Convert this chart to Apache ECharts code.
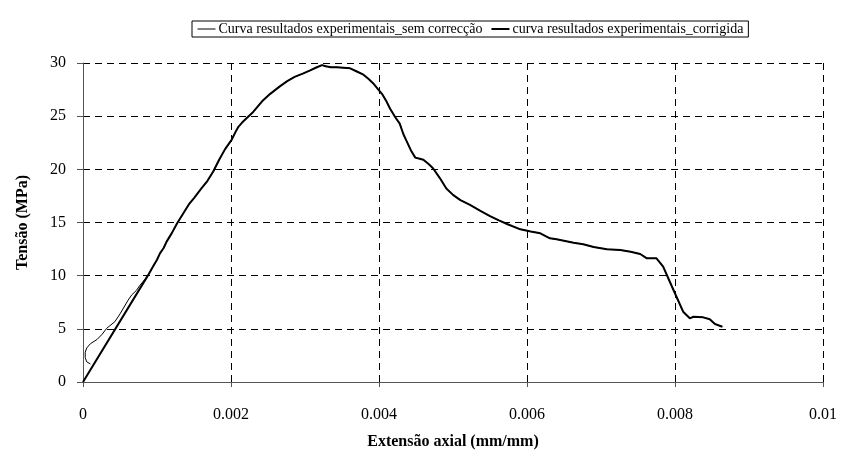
<!DOCTYPE html>
<html>
<head>
<meta charset="utf-8">
<script src="https://cdn.jsdelivr.net/npm/echarts@6/dist/echarts.min.js"></script>
<style>html,body{margin:0;padding:0;background:#fff}#c{width:845px;height:466px}</style>
</head>
<body>
<div id="c"></div>
<script>
// ---- data ----
var seriesNames = ['Curva resultados experimentais_sem correcção', 'curva resultados experimentais_corrigida'];
var xTicks = [0, 0.002, 0.004, 0.006, 0.008, 0.01];
var yTicks = [0, 5, 10, 15, 20, 25, 30];

// initial part of uncorrected curve (hook near the origin)
var strainUncorrStart = [0.0001, 0.00005, 0.00003, 0.00003, 0.00005, 0.0001, 0.00019, 0.00026, 0.00032, 0.00043, 0.0005, 0.00061, 0.00066, 0.00072, 0.00077, 0.00083];
var stressUncorrStart = [1.7, 1.9, 2.3, 2.8, 3.2, 3.6, 4.0, 4.5, 5.05, 5.67, 6.4, 7.7, 8.2, 8.6, 9.1, 9.6];

// initial part of corrected curve (straight line from origin)
var strainCorrStart = [0];
var stressCorrStart = [0];

// common part of both curves
var strainCommon = [0.00088,0.00095,0.001,0.00104,0.00109,0.00113,0.0012,0.00127,0.00135,0.00143,0.0015,0.0016,0.00168,0.00176,0.00184,0.00192,0.00197,0.00201,0.00206,0.0021,0.00215,0.00221,0.0023,0.00242,0.00253,0.00266,0.00276,0.00286,0.00297,0.00307,0.00316,0.00323,0.00328,0.00335,0.00343,0.00352,0.00361,0.0037,0.00379,0.00386,0.00392,0.00398,0.00404,0.0041,0.00415,0.00422,0.00428,0.00433,0.00437,0.00443,0.00449,0.00455,0.0046,0.00467,0.00473,0.00482,0.00491,0.005,0.0051,0.00523,0.00537,0.0055,0.00562,0.00573,0.00591,0.00605,0.00618,0.00631,0.0064,0.00663,0.00676,0.0069,0.00708,0.00726,0.0074,0.00753,0.00762,0.00775,0.00784,0.00793,0.00802,0.00811,0.0082,0.00825,0.00838,0.00847,0.00854,0.00864];
var stressCommon = [10.05,10.9,11.5,12.1,12.6,13.2,14.0,14.9,15.8,16.7,17.3,18.2,18.9,19.8,20.9,21.9,22.4,22.8,23.5,24.0,24.4,24.8,25.4,26.4,27.1,27.8,28.3,28.7,29.0,29.3,29.6,29.8,29.7,29.6,29.6,29.55,29.5,29.2,28.9,28.5,28.1,27.6,27.1,26.4,25.7,24.9,24.3,23.3,22.7,21.8,21.1,21.0,20.9,20.5,20.1,19.2,18.2,17.6,17.1,16.65,16.1,15.6,15.2,14.86,14.36,14.15,13.98,13.51,13.42,13.1,12.95,12.7,12.48,12.41,12.25,12.04,11.63,11.63,10.85,9.43,8.02,6.61,5.99,6.14,6.08,5.9,5.45,5.2];

function pairs(xs, ys){ var out=[]; for (var i=0;i<xs.length;i++) out.push([xs[i], ys[i]]); return out; }
var uncorrData = pairs(strainUncorrStart, stressUncorrStart).concat(pairs(strainCommon, stressCommon));
var corrData = pairs(strainCorrStart, stressCorrStart).concat(pairs(strainCommon, stressCommon));

var FONT = '"Liberation Serif", "Times New Roman", serif';
var chart = echarts.init(document.getElementById('c'), null, {renderer: 'canvas'});
chart.setOption({
  animation: false,
  backgroundColor: '#fff',
  grid: {left: 83, right: 22, top: 63, bottom: 84, containLabel: false},
  legend: {
    data: [
      {name: seriesNames[0], lineStyle: {width: 1, color: '#000'}},
      {name: seriesNames[1], lineStyle: {width: 2, color: '#000'}}
    ],
    left: 192, top: 21,
    orient: 'horizontal',
    itemWidth: 18, itemHeight: 10, itemGap: 8,
    padding: [1, 5],
    borderColor: '#000', borderWidth: 1, borderRadius: 0,
    backgroundColor: '#fff',
    itemStyle: {opacity: 0},
    textStyle: {fontFamily: FONT, fontSize: 14, color: '#000', padding: [0,0,0,-2]}
  },
  xAxis: {
    type: 'value', min: xTicks[0], max: xTicks[xTicks.length-1], interval: 0.002,
    name: 'Extensão axial (mm/mm)', nameLocation: 'middle', nameGap: 52,
    nameTextStyle: {fontFamily: FONT, fontSize: 16, fontWeight: 'bold', color: '#000'},
    axisLine: {show: true, onZero: false, lineStyle: {color: '#555', width: 1}},
    axisTick: {show: true, inside: false, length: 5, lineStyle: {color: '#555'}},
    axisLabel: {fontFamily: FONT, fontSize: 16, color: '#000', margin: 25,
      formatter: function(v){ return String(+v.toFixed(4)); }},
    splitLine: {show: true, lineStyle: {color: '#000', width: 1, type: [7, 5]}}
  },
  yAxis: {
    type: 'value', min: yTicks[0], max: yTicks[yTicks.length-1], interval: 5,
    name: 'Tensão (MPa)', nameLocation: 'middle', nameGap: 52,
    nameTextStyle: {fontFamily: FONT, fontSize: 16, fontWeight: 'bold', color: '#000'},
    axisLine: {show: true, lineStyle: {color: '#555', width: 1}},
    axisTick: {show: true, inside: false, length: 6, lineStyle: {color: '#555'}},
    axisLabel: {fontFamily: FONT, fontSize: 16, color: '#000', margin: 17},
    splitLine: {show: true, lineStyle: {color: '#000', width: 1, type: [7, 5]}}
  },
  series: [
    {name: seriesNames[0], type: 'line', data: uncorrData, showSymbol: false, symbol: 'none',
     lineStyle: {color: '#000', width: 1}, itemStyle: {color: '#000'}, z: 2},
    {name: seriesNames[1], type: 'line', data: corrData, showSymbol: false, symbol: 'none',
     lineStyle: {color: '#000', width: 2}, itemStyle: {color: '#000'}, z: 3}
  ]
});
</script>
</body>
</html>
